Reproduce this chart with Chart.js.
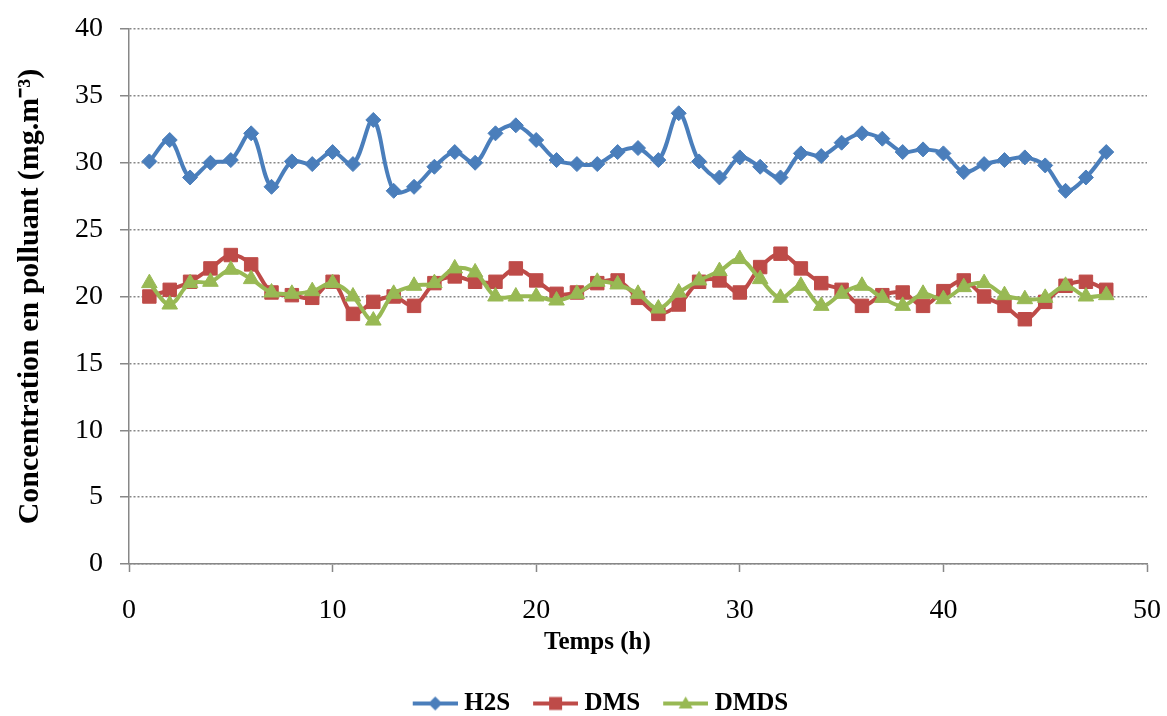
<!DOCTYPE html>
<html>
<head>
<meta charset="utf-8">
<script src="https://cdn.jsdelivr.net/npm/chart.js@4/dist/chart.umd.min.js"></script>
<style>
  body { margin: 0; background: #fff; }
  canvas { display: block; }
</style>
</head>
<body>
<canvas id="lineChart" width="1167" height="716"></canvas>
<script>
// Temps (h)
const hours = [1, 2, 3, 4, 5, 6, 7, 8, 9, 10, 11, 12, 13, 14, 15, 16, 17, 18, 19, 20, 21, 22, 23, 24,
  25, 26, 27, 28, 29, 30, 31, 32, 33, 34, 35, 36, 37, 38, 39, 40, 41, 42, 43, 44, 45, 46, 47, 48];

const h2s = [30.1, 31.7, 28.9, 30.0, 30.2, 32.2, 28.2, 30.1, 29.9, 30.8, 29.9, 33.2,
  27.9, 28.2, 29.7, 30.8, 30.0, 32.2, 32.8, 31.7, 30.2, 29.9, 29.9, 30.8, 31.1,
  30.2, 33.7, 30.1, 28.9, 30.4, 29.7, 28.9, 30.7, 30.5, 31.5, 32.2, 31.8,
  30.8, 31.0, 30.7, 29.3, 29.9, 30.2, 30.4, 29.8, 27.9, 28.9, 30.8];

const dms = [20.0, 20.5, 21.1, 22.1, 23.1, 22.4, 20.3, 20.1, 19.9, 21.1, 18.7, 19.6,
  20.0, 19.3, 21.0, 21.5, 21.1, 21.1, 22.1, 21.2, 20.2, 20.3, 21.0, 21.2, 19.9,
  18.7, 19.4, 21.1, 21.2, 20.3, 22.2, 23.2, 22.1, 21.0, 20.5, 19.3, 20.1,
  20.3, 19.3, 20.4, 21.2, 20.0, 19.3, 18.3, 19.6, 20.8, 21.1, 20.5];

const dmds = [21.0, 19.4, 21.0, 21.1, 22.0, 21.3, 20.3, 20.2, 20.4, 21.0, 20.0, 18.2,
  20.2, 20.8, 21.0, 22.1, 21.8, 20.0, 20.0, 20.0, 19.7, 20.2, 21.1, 20.9, 20.2,
  19.1, 20.3, 21.2, 21.9, 22.8, 21.3, 19.9, 20.8, 19.3, 20.2, 20.8, 19.9,
  19.3, 20.2, 19.8, 20.7, 21.0, 20.1, 19.8, 19.9, 20.8, 20.0, 20.1];

const seriesNames = ['H2S', 'DMS', 'DMDS'];

const FONT = "'Liberation Serif', 'Times New Roman', serif";
const GRID = '#878787';

const toPoints = (vals) => vals.map((v, i) => ({ x: hours[i], y: v }));

// petite icone ligne + marqueur pour la légende (style Excel)
function legendIcon(color, shape) {
  const c = document.createElement('canvas');
  c.width = 73;
  c.height = 20;
  const g = c.getContext('2d');
  g.strokeStyle = color;
  g.fillStyle = color;
  g.lineWidth = 4;
  g.beginPath();
  g.moveTo(28, 10);
  g.lineTo(73, 10);
  g.stroke();
  const cx = 50.5, cy = 10;
  g.beginPath();
  if (shape === 'diamond') {
    g.moveTo(cx, cy - 7); g.lineTo(cx + 7, cy); g.lineTo(cx, cy + 7); g.lineTo(cx - 7, cy);
  } else if (shape === 'square') {
    g.rect(cx - 6.5, cy - 6.5, 13, 13);
  } else {
    g.moveTo(cx, cy - 7); g.lineTo(cx + 7, cy + 5); g.lineTo(cx - 7, cy + 5);
  }
  g.closePath();
  g.fill();
  return c;
}

const icons = [
  legendIcon('#4A7EBB', 'diamond'),
  legendIcon('#BE4B48', 'square'),
  legendIcon('#98B954', 'triangle')
];

const legendShift = {
  id: 'legendShift',
  afterLayout(chart) {
    chart.legend.left += 16;
    chart.legend.right += 16;
    chart.legend.top += 11;
    chart.legend.bottom += 11;
  }
};

new Chart(document.getElementById('lineChart'), {
  type: 'line',
  data: {
    datasets: [{
      label: seriesNames[0],
      data: toPoints(h2s),
      borderColor: '#4A7EBB',
      backgroundColor: '#4A7EBB',
      pointStyle: 'rectRot',
      pointRadius: 7.5,
      order: 2
    }, {
      label: seriesNames[1],
      data: toPoints(dms),
      borderColor: '#BE4B48',
      backgroundColor: '#BE4B48',
      pointStyle: 'rect',
      pointRadius: 9.5,
      order: 1
    }, {
      label: seriesNames[2],
      data: toPoints(dmds),
      borderColor: '#98B954',
      backgroundColor: '#98B954',
      pointStyle: 'triangle',
      pointRadius: 9,
      order: 0
    }]
  },
  options: {
    responsive: false,
    animation: false,
    devicePixelRatio: 1,
    layout: { padding: { left: 0, right: 20, top: 29, bottom: 1 } },
    elements: {
      line: { borderWidth: 4, tension: 0.35 },
      point: { borderWidth: 1 }
    },
    scales: {
      x: {
        type: 'linear',
        min: 0,
        max: 50,
        afterFit: (axis) => {
          axis.height = 115;
          axis.paddingLeft = 0;
          axis.paddingRight = 0;
        },
        ticks: { stepSize: 10, color: '#000', padding: 22, maxRotation: 0, font: { family: FONT, size: 28 } },
        grid: { drawOnChartArea: false, tickLength: 8, tickColor: GRID, tickWidth: 1.5 },
        border: { display: true, color: GRID, width: 1.5 },
        title: {
          display: true,
          // espaces de fin : le titre est décalé vers la gauche comme dans l'original
          text: 'Temps (h)             ',
          color: '#000',
          padding: { top: 0, bottom: 21 },
          font: { family: FONT, size: 25, weight: 'bold' }
        }
      },
      y: {
        min: 0,
        max: 40,
        afterFit: (axis) => {
          axis.width = 129;
          axis.paddingTop = 0;
          axis.paddingBottom = 0;
        },
        ticks: { stepSize: 5, color: '#000', padding: 17, font: { family: FONT, size: 28 } },
        grid: { color: GRID, lineWidth: 1.5, tickLength: 9, tickColor: GRID, tickWidth: 1.5, tickBorderDash: [] },
        border: { display: true, color: GRID, width: 1.5, dash: [2, 2] },
        title: {
          display: true,
          text: 'Concentration en polluant (mg.m\u207B\u00B3)',
          color: '#000',
          padding: { top: 12, bottom: 0 },
          font: { family: FONT, size: 30, weight: 'bold' }
        }
      }
    },
    plugins: {
      tooltip: { enabled: false },
      legend: {
        position: 'bottom',
        labels: {
          usePointStyle: true,
          pointStyleWidth: 61,
          padding: 1,
          color: '#000',
          font: { family: FONT, size: 25, weight: 'bold' },
          sort: (a, b) => a.datasetIndex - b.datasetIndex,
          generateLabels: (chart) => Chart.defaults.plugins.legend.labels.generateLabels(chart).map((item) => {
            item.pointStyle = icons[item.datasetIndex];
            return item;
          })
        }
      }
    }
  },
  plugins: [legendShift]
});
</script>
</body>
</html>
